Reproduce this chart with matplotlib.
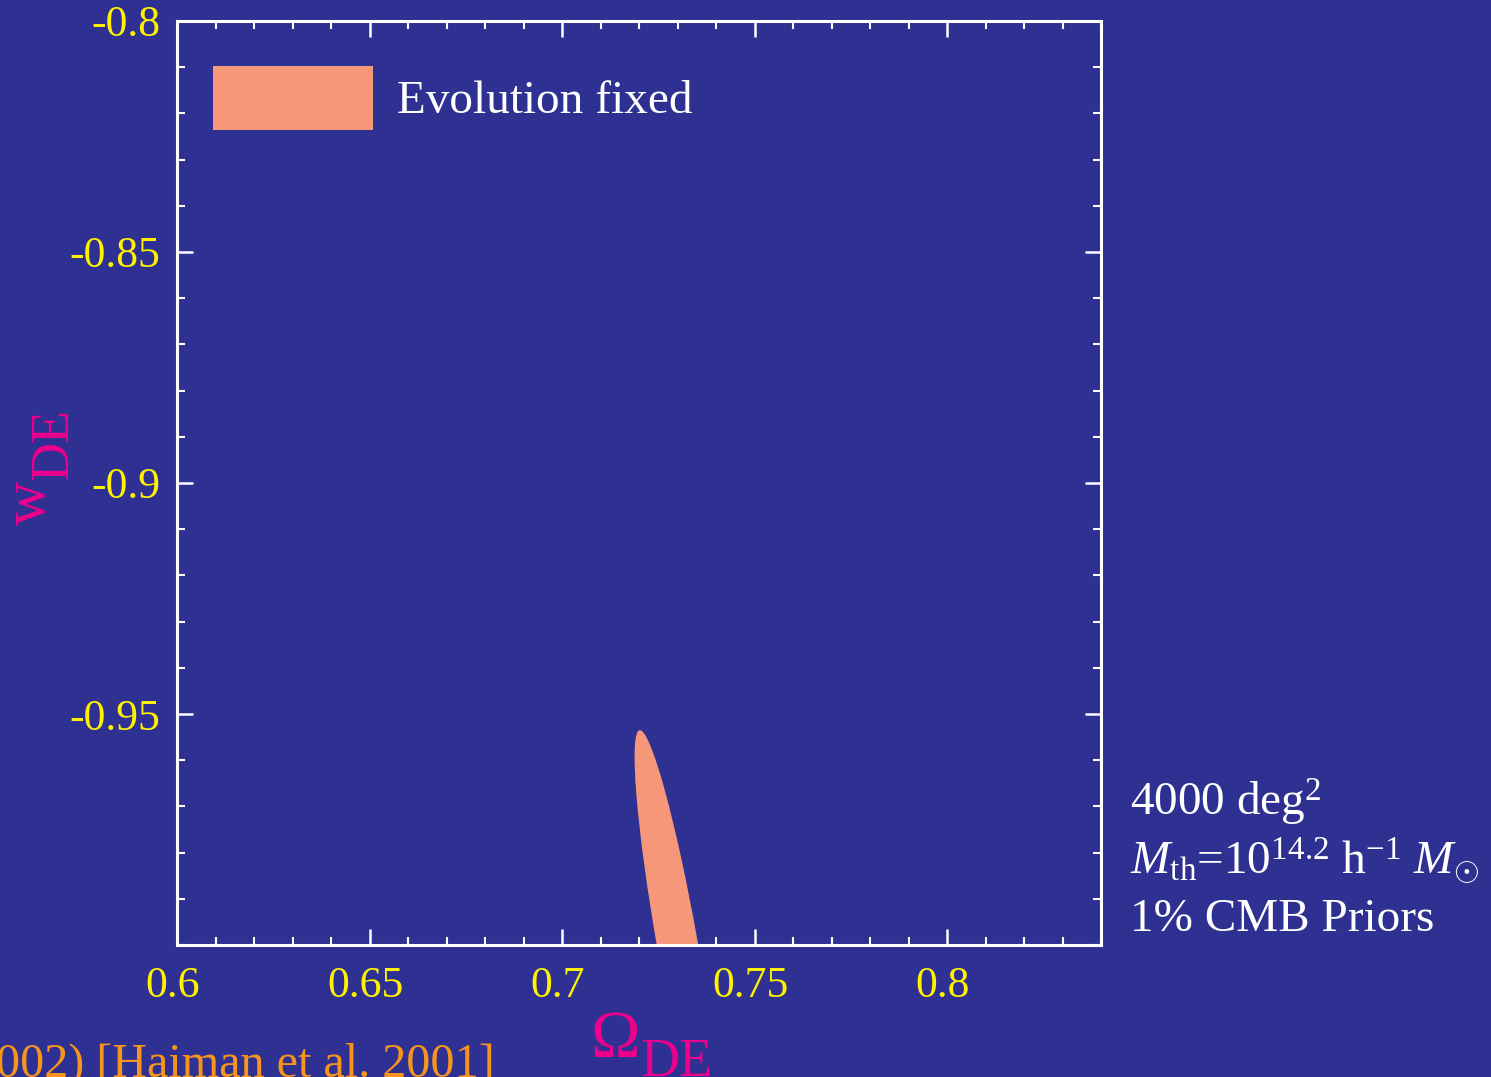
import numpy as np
import matplotlib
matplotlib.use("Agg")
import matplotlib.pyplot as plt
from matplotlib.patches import Ellipse, Patch
from matplotlib.ticker import MultipleLocator, FixedLocator
from matplotlib.transforms import ScaledTranslation

plt.rcParams['font.family'] = ['Liberation Serif', 'DejaVu Serif']
plt.rcParams['mathtext.fontset'] = 'custom'
plt.rcParams['mathtext.rm'] = 'Liberation Serif'
plt.rcParams['mathtext.it'] = 'Liberation Serif:italic'
plt.rcParams['mathtext.bf'] = 'Liberation Serif:bold'

# ---- data ----
omega_fid = 0.73
w_fid = -1.0
sigma_omega = 0.01115
sigma_w = 0.0465
rho = -0.8756
legend_label = "Evolution fixed"
x_ticks = [0.6, 0.65, 0.7, 0.75, 0.8]
x_ticklabels = ["0.6", "0.65", "0.7", "0.75", "0.8"]
y_ticks = [-0.95, -0.9, -0.85, -0.8]
y_ticklabels = ["-0.95", "-0.9", "-0.85", "-0.8"]
xlim = (0.6, 0.84)
ylim = (-1.0, -0.8)
info_lines = ["4000 deg$^{2}$",
              r"$M_{\rm th}$=10$^{14.2}$ h$^{-1}$ $M_{\odot}$",
              "1% CMB Priors"]
credit = "002) [Haiman et al. 2001]"

BG = '#2E3192'
SALMON = '#F7977A'
YELLOW = '#FFF200'
MAGENTA = '#EC008C'
ORANGE = '#F7941D'

W, H = 1491, 1077
fig = plt.figure(figsize=(W / 100, H / 100), dpi=100, facecolor=BG)
ax = fig.add_axes([177 / W, 1 - 945 / H, 924 / W, 924 / H])
ax.set_facecolor(BG)

cov = np.array([[sigma_omega ** 2, rho * sigma_omega * sigma_w],
                [rho * sigma_omega * sigma_w, sigma_w ** 2]])
vals, vecs = np.linalg.eigh(cov)
order = vals.argsort()[::-1]
vals, vecs = vals[order], vecs[:, order]
angle = np.degrees(np.arctan2(vecs[1, 0], vecs[0, 0]))
ell = Ellipse((omega_fid, w_fid), 2 * np.sqrt(vals[0]), 2 * np.sqrt(vals[1]),
              angle=angle, facecolor=SALMON, edgecolor='none', zorder=2)
ax.add_patch(ell)

ax.set_xlim(*xlim)
ax.set_ylim(*ylim)
ax.xaxis.set_major_locator(FixedLocator(x_ticks))
ax.set_xticklabels(x_ticklabels)
ax.yaxis.set_major_locator(FixedLocator(y_ticks))
ax.set_yticklabels(y_ticklabels)
ax.xaxis.set_minor_locator(MultipleLocator(0.01))
ax.yaxis.set_minor_locator(MultipleLocator(0.01))
ax.tick_params(which='both', direction='in', top=True, right=True,
               color='white', labelcolor=YELLOW, labelsize=31.5)
ax.tick_params(which='major', length=11.5, width=1.8)
ax.tick_params(which='minor', length=5.8, width=1.5)
ax.tick_params(axis='x', which='major', pad=15)
ax.tick_params(axis='y', which='major', pad=12)
for s in ax.spines.values():
    s.set_color('white')
    s.set_linewidth(2.2)
shift = ScaledTranslation(-4 / 100, 0, fig.dpi_scale_trans)
for lab in ax.get_xticklabels():
    lab.set_transform(lab.get_transform() + shift)

handle = Patch(facecolor=SALMON, edgecolor='none', label=legend_label)
leg = ax.legend(handles=[handle], loc='upper left',
                bbox_to_anchor=(36 / 924, 1 - 45 / 924), borderaxespad=0,
                borderpad=0, frameon=False, fontsize=34,
                handlelength=3.39, handleheight=1.71, handletextpad=0.5)
for t in leg.get_texts():
    t.set_color('white')

baselines = [816, 873, 931]
for line, b in zip(info_lines, baselines):
    fig.text(1130 / W, 1 - b / H, line, color='white', fontsize=34,
             ha='left', va='baseline')

# axis labels
fig.text(590 / W, 1 - 1057 / H, "Ω", color=MAGENTA, fontsize=48,
         ha='left', va='baseline')
fig.text(640 / W, 1 - 1076 / H, "DE", color=MAGENTA, fontsize=39,
         ha='left', va='baseline')
fig.text(45 / W, 1 - 525 / H, "w", color=MAGENTA, fontsize=44,
         rotation=90, rotation_mode='anchor', ha='left', va='baseline')
fig.text(67 / W, 1 - 480 / H, "DE", color=MAGENTA, fontsize=39,
         rotation=90, rotation_mode='anchor', ha='left', va='baseline')

fig.text(-4 / W, 1 - 1077 / H, credit, color=ORANGE, fontsize=34.7,
         ha='left', va='baseline')

fig.savefig('out.png', dpi=100, facecolor=BG)
